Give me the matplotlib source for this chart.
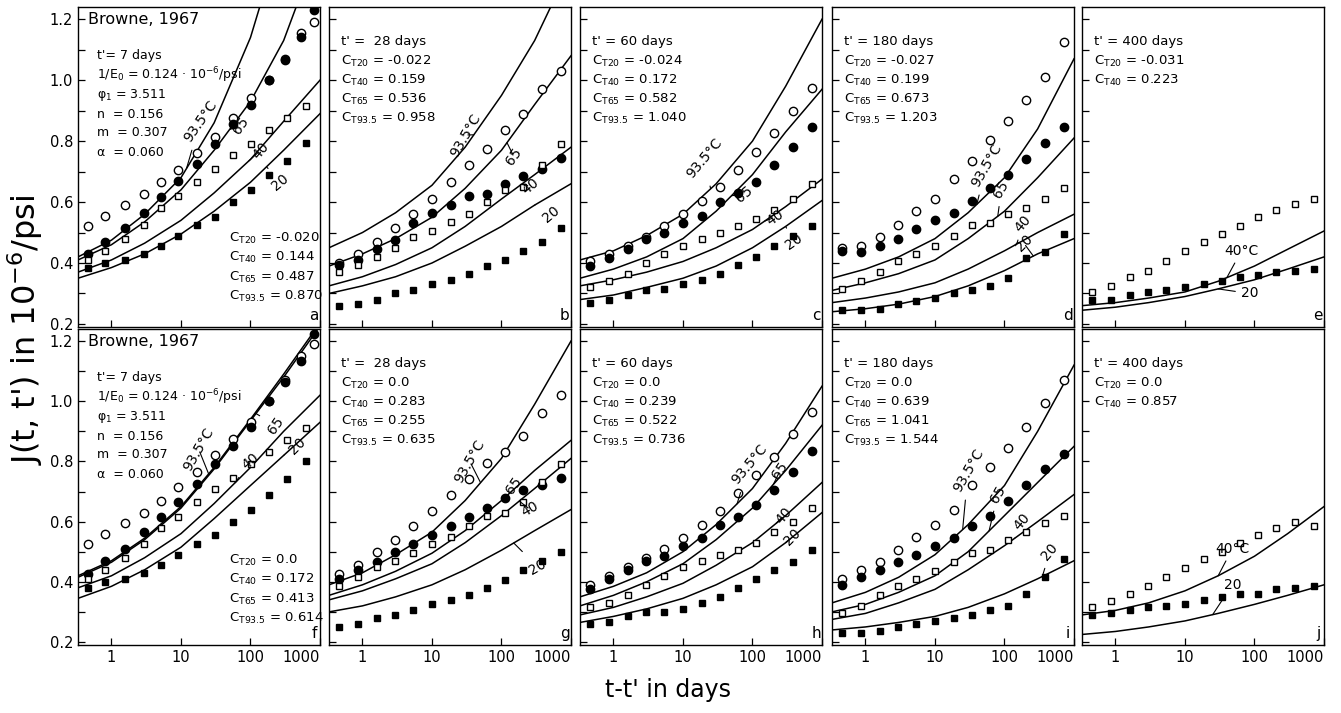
import numpy as np
import matplotlib.pyplot as plt
from matplotlib.ticker import FixedLocator, NullLocator, NullFormatter

plt.rcParams['font.family'] = ['DejaVu Sans']
plt.rcParams['mathtext.fontset'] = 'dejavusans'

### temps de mesure (jours) et abscisses des courbes
t_fit = [0.33, 1, 3, 10, 30, 100, 300, 1000]
t_7 = [0.46, 0.82, 1.57, 2.9, 5.2, 9.1, 17, 31, 56, 103, 185, 310, 540, 820]
t_7b = [0.46, 0.82, 1.57, 2.9, 5.2, 9.1, 17, 31, 56, 103, 185, 340, 620]
t_pts = [0.46, 0.86, 1.6, 2.95, 5.3, 10, 18.7, 34, 62, 114, 205, 380, 710]

### points mesures (o93 = 93.5 C, f65 = 65 C, o40 = 40 C, f20 = 20 C)
a_o93 = [0.52, 0.555, 0.59, 0.625, 0.665, 0.705, 0.76, 0.815, 0.875, 0.94, 1.0, 1.07, 1.155, 1.19]
a_f65 = [0.43, 0.47, 0.515, 0.565, 0.615, 0.67, 0.725, 0.79, 0.855, 0.92, 1.0, 1.065, 1.14, 1.23]
a_o40 = [0.41, 0.44, 0.48, 0.525, 0.58, 0.62, 0.665, 0.71, 0.755, 0.79, 0.835, 0.875, 0.915]
a_f20 = [0.385, 0.40, 0.41, 0.43, 0.455, 0.49, 0.525, 0.55, 0.60, 0.64, 0.69, 0.735, 0.795]

b_o93 = [0.40, 0.43, 0.47, 0.515, 0.56, 0.61, 0.665, 0.72, 0.775, 0.835, 0.89, 0.97, 1.03]
b_f65 = [0.395, 0.41, 0.445, 0.475, 0.53, 0.565, 0.59, 0.62, 0.625, 0.66, 0.685, 0.71, 0.745]
b_o40 = [0.37, 0.395, 0.42, 0.45, 0.485, 0.505, 0.535, 0.56, 0.60, 0.64, 0.65, 0.72, 0.79]
b_f20 = [0.26, 0.265, 0.28, 0.30, 0.31, 0.33, 0.345, 0.365, 0.39, 0.41, 0.44, 0.47, 0.515]

c_o93 = [0.405, 0.43, 0.455, 0.485, 0.52, 0.56, 0.605, 0.65, 0.705, 0.765, 0.825, 0.90, 0.975]
c_f65 = [0.39, 0.415, 0.445, 0.48, 0.50, 0.53, 0.555, 0.60, 0.63, 0.665, 0.72, 0.78, 0.845]
c_o40 = [0.32, 0.34, 0.365, 0.40, 0.43, 0.455, 0.48, 0.50, 0.52, 0.545, 0.575, 0.61, 0.66]
c_f20 = [0.27, 0.28, 0.295, 0.31, 0.315, 0.33, 0.345, 0.365, 0.395, 0.42, 0.455, 0.49, 0.52]

d_o93 = [0.45, 0.455, 0.485, 0.525, 0.57, 0.61, 0.675, 0.735, 0.805, 0.865, 0.935, 1.01, 1.125]
d_f65 = [0.44, 0.435, 0.455, 0.48, 0.51, 0.54, 0.565, 0.605, 0.645, 0.69, 0.74, 0.795, 0.845]
d_o40 = [0.315, 0.34, 0.37, 0.405, 0.43, 0.455, 0.49, 0.525, 0.53, 0.56, 0.58, 0.61, 0.645]
d_f20 = [0.245, 0.245, 0.25, 0.265, 0.275, 0.285, 0.30, 0.31, 0.325, 0.35, 0.415, 0.435, 0.495]

e_o40 = [0.305, 0.325, 0.355, 0.375, 0.405, 0.44, 0.47, 0.495, 0.52, 0.55, 0.575, 0.595, 0.61]
e_f20 = [0.28, 0.28, 0.295, 0.305, 0.31, 0.32, 0.33, 0.34, 0.355, 0.36, 0.37, 0.375, 0.38]

f_o93 = [0.525, 0.56, 0.595, 0.63, 0.67, 0.715, 0.765, 0.82, 0.875, 0.93, 1.0, 1.07, 1.15, 1.19]
f_f65 = [0.425, 0.47, 0.51, 0.565, 0.615, 0.665, 0.725, 0.79, 0.85, 0.915, 1.0, 1.065, 1.135, 1.225]
f_o40 = [0.41, 0.44, 0.48, 0.525, 0.58, 0.615, 0.665, 0.71, 0.745, 0.79, 0.83, 0.87, 0.91]
f_f20 = [0.38, 0.40, 0.41, 0.43, 0.455, 0.49, 0.525, 0.555, 0.60, 0.64, 0.69, 0.74, 0.80]

g_o93 = [0.425, 0.455, 0.50, 0.54, 0.585, 0.635, 0.69, 0.74, 0.795, 0.83, 0.885, 0.96, 1.02]
g_f65 = [0.41, 0.44, 0.465, 0.50, 0.525, 0.555, 0.585, 0.615, 0.645, 0.68, 0.705, 0.72, 0.745]
g_o40 = [0.385, 0.415, 0.45, 0.47, 0.495, 0.525, 0.55, 0.585, 0.62, 0.63, 0.665, 0.73, 0.79]
g_f20 = [0.25, 0.26, 0.28, 0.29, 0.305, 0.325, 0.34, 0.355, 0.38, 0.405, 0.44, 0.47, 0.50]

h_o93 = [0.39, 0.42, 0.45, 0.48, 0.51, 0.545, 0.59, 0.635, 0.695, 0.755, 0.815, 0.89, 0.965]
h_f65 = [0.375, 0.41, 0.44, 0.47, 0.485, 0.52, 0.545, 0.59, 0.615, 0.655, 0.705, 0.765, 0.835]
h_o40 = [0.315, 0.33, 0.355, 0.39, 0.42, 0.45, 0.47, 0.49, 0.505, 0.53, 0.565, 0.60, 0.645]
h_f20 = [0.26, 0.265, 0.285, 0.30, 0.30, 0.31, 0.33, 0.35, 0.38, 0.41, 0.44, 0.465, 0.505]

i_o93 = [0.41, 0.44, 0.465, 0.505, 0.55, 0.59, 0.64, 0.72, 0.78, 0.845, 0.915, 0.995, 1.07]
i_f65 = [0.39, 0.415, 0.44, 0.465, 0.49, 0.52, 0.545, 0.585, 0.62, 0.67, 0.72, 0.775, 0.825]
i_o40 = [0.295, 0.32, 0.355, 0.385, 0.41, 0.435, 0.465, 0.495, 0.505, 0.54, 0.565, 0.595, 0.62]
i_f20 = [0.23, 0.23, 0.235, 0.25, 0.26, 0.27, 0.28, 0.29, 0.305, 0.32, 0.36, 0.415, 0.475]

j_o40 = [0.315, 0.335, 0.36, 0.385, 0.415, 0.445, 0.475, 0.50, 0.53, 0.555, 0.58, 0.60, 0.585]
j_f20 = [0.29, 0.295, 0.305, 0.315, 0.32, 0.325, 0.34, 0.35, 0.36, 0.36, 0.375, 0.38, 0.385]

### courbes du modele, lues aux abscisses t_fit
a_c93 = [0.42, 0.475, 0.56, 0.68, 0.86, 1.14, 1.5, 2.0]
a_c65 = [0.41, 0.46, 0.535, 0.64, 0.77, 0.93, 1.13, 1.45]
a_c40 = [0.37, 0.41, 0.465, 0.54, 0.63, 0.74, 0.865, 1.0]
a_c20 = [0.35, 0.385, 0.43, 0.495, 0.57, 0.665, 0.77, 0.89]

b_c93 = [0.45, 0.50, 0.565, 0.655, 0.78, 0.95, 1.13, 1.38]
b_c65 = [0.39, 0.43, 0.48, 0.55, 0.645, 0.77, 0.92, 1.08]
b_c40 = [0.325, 0.355, 0.395, 0.45, 0.52, 0.61, 0.69, 0.78]
b_c20 = [0.30, 0.325, 0.355, 0.40, 0.455, 0.52, 0.59, 0.66]

c_c93 = [0.41, 0.44, 0.49, 0.56, 0.66, 0.80, 0.98, 1.2]
c_c65 = [0.35, 0.38, 0.42, 0.48, 0.57, 0.69, 0.83, 0.97]
c_c40 = [0.325, 0.345, 0.37, 0.405, 0.45, 0.51, 0.585, 0.675]
c_c20 = [0.28, 0.295, 0.32, 0.35, 0.39, 0.45, 0.52, 0.605]

d_c93 = [0.35, 0.38, 0.42, 0.48, 0.565, 0.68, 0.84, 1.07]
d_c65 = [0.31, 0.335, 0.365, 0.41, 0.48, 0.57, 0.68, 0.81]
d_c40 = [0.27, 0.285, 0.305, 0.335, 0.38, 0.44, 0.50, 0.56]
d_c20 = [0.24, 0.25, 0.265, 0.29, 0.325, 0.375, 0.43, 0.48]

e_c40 = [0.26, 0.27, 0.285, 0.305, 0.34, 0.39, 0.445, 0.505]
e_c20 = [0.245, 0.255, 0.27, 0.29, 0.315, 0.345, 0.38, 0.42]

f_c93 = [0.42, 0.47, 0.545, 0.65, 0.78, 0.94, 1.09, 1.26]
f_c65 = [0.415, 0.465, 0.54, 0.645, 0.775, 0.935, 1.08, 1.25]
f_c40 = [0.38, 0.42, 0.48, 0.56, 0.66, 0.78, 0.90, 1.02]
f_c20 = [0.345, 0.385, 0.44, 0.515, 0.61, 0.72, 0.82, 0.93]

g_c93 = [0.39, 0.43, 0.49, 0.565, 0.67, 0.81, 0.99, 1.2]
g_c65 = [0.355, 0.39, 0.435, 0.495, 0.57, 0.67, 0.77, 0.87]
g_c40 = [0.34, 0.37, 0.41, 0.46, 0.53, 0.62, 0.71, 0.81]
g_c20 = [0.30, 0.32, 0.35, 0.39, 0.44, 0.505, 0.57, 0.64]

h_c93 = [0.35, 0.385, 0.43, 0.50, 0.59, 0.71, 0.86, 1.05]
h_c65 = [0.32, 0.355, 0.40, 0.46, 0.54, 0.645, 0.77, 0.92]
h_c40 = [0.29, 0.315, 0.35, 0.395, 0.455, 0.53, 0.62, 0.73]
h_c20 = [0.265, 0.285, 0.31, 0.345, 0.39, 0.45, 0.53, 0.63]

i_c93 = [0.33, 0.365, 0.415, 0.49, 0.59, 0.72, 0.90, 1.12]
i_c65 = [0.30, 0.325, 0.365, 0.42, 0.50, 0.62, 0.73, 0.85]
i_c40 = [0.275, 0.295, 0.33, 0.375, 0.44, 0.52, 0.60, 0.69]
i_c20 = [0.24, 0.25, 0.265, 0.285, 0.315, 0.36, 0.41, 0.47]

j_c40 = [0.29, 0.305, 0.33, 0.37, 0.42, 0.485, 0.56, 0.65]
j_c20 = [0.225, 0.235, 0.25, 0.27, 0.295, 0.325, 0.355, 0.39]

### graduations
x_ticks = [1, 10, 100, 1000]
x_labels = ["1", "10", "100", "1000"]
y_ticks = [0.2, 0.4, 0.6, 0.8, 1.0, 1.2]
y_minor = [0.3, 0.5, 0.7, 0.9, 1.1]
y_labels = ["0.2", "0.4", "0.6", "0.8", "1.0", "1.2"]

### textes
params_txt = ["t'= 7 days", "1/E$_0$ = 0.124 · 10$^{-6}$/psi", "φ$_1$ = 3.511",
              "n  = 0.156", "m  = 0.307", "α  = 0.060"]
tprime = ["t' = 7 days", "t' =  28 days", "t' = 60 days", "t' = 180 days", "t' = 400 days",
          "t' = 7 days", "t' =  28 days", "t' = 60 days", "t' = 180 days", "t' = 400 days"]
ct_names = ["C$_{\\rm T20}$", "C$_{\\rm T40}$", "C$_{\\rm T65}$", "C$_{\\rm T93.5}$"]
ct_vals = [["-0.020", "0.144", "0.487", "0.870"],
           ["-0.022", "0.159", "0.536", "0.958"],
           ["-0.024", "0.172", "0.582", "1.040"],
           ["-0.027", "0.199", "0.673", "1.203"],
           ["-0.031", "0.223"],
           ["0.0", "0.172", "0.413", "0.614"],
           ["0.0", "0.283", "0.255", "0.635"],
           ["0.0", "0.239", "0.522", "0.736"],
           ["0.0", "0.639", "1.041", "1.544"],
           ["0.0", "0.857"]]
lettres = list("abcdefghij")

###Fonction pour tracer un panneau
def tracer(ax, t_pts93, o93, f65, t_pts40, o40, f20, c93, c65, c40, c20):
    for c in [c93, c65, c40, c20]:
        if c is not None:
            ax.plot(t_fit, c, color='black', lw=1.1)
    ms = 6
    if o93 is not None:
        ax.plot(t_pts93, o93, 'o', ms=ms, mfc='white', mec='black', mew=1.0)
        ax.plot(t_pts93[:len(f65)], f65, 'o', ms=ms, mfc='black', mec='black')
    ax.plot(t_pts40, o40, 's', ms=5, mfc='white', mec='black', mew=1.0)
    ax.plot(t_pts40[:len(f20)], f20, 's', ms=5, mfc='black', mec='black')

def etiquette(ax, txt, ta, courbe, tx, ty, rot):
    ya = np.interp(np.log10(ta), np.log10(t_fit), courbe)
    ax.annotate(txt, xy=(ta, ya), xytext=(tx, ty), rotation=rot, fontsize=10,
                ha='center', va='center',
                arrowprops=dict(arrowstyle='-', lw=0.8, color='black', shrinkA=2, shrinkB=0))

W, H = 1341, 713
fig = plt.figure(figsize=(W / 100, H / 100), dpi=100)
col_x = [78, 329, 580, 832, 1082]
axes = []
for r, (top, bot) in enumerate([(7, 327), (329, 645)]):
    for c, x0 in enumerate(col_x):
        ax = fig.add_axes([x0 / W, 1 - bot / H, 242 / W, (bot - top) / H])
        axes.append(ax)

panels = [
    (t_7, a_o93, a_f65, t_7b, a_o40, a_f20, a_c93, a_c65, a_c40, a_c20),
    (t_pts, b_o93, b_f65, t_pts, b_o40, b_f20, b_c93, b_c65, b_c40, b_c20),
    (t_pts, c_o93, c_f65, t_pts, c_o40, c_f20, c_c93, c_c65, c_c40, c_c20),
    (t_pts, d_o93, d_f65, t_pts, d_o40, d_f20, d_c93, d_c65, d_c40, d_c20),
    (t_pts, None, None, t_pts, e_o40, e_f20, None, None, e_c40, e_c20),
    (t_7, f_o93, f_f65, t_7b, f_o40, f_f20, f_c93, f_c65, f_c40, f_c20),
    (t_pts, g_o93, g_f65, t_pts, g_o40, g_f20, g_c93, g_c65, g_c40, g_c20),
    (t_pts, h_o93, h_f65, t_pts, h_o40, h_f20, h_c93, h_c65, h_c40, h_c20),
    (t_pts, i_o93, i_f65, t_pts, i_o40, i_f20, i_c93, i_c65, i_c40, i_c20),
    (t_pts, None, None, t_pts, j_o40, j_f20, None, None, j_c40, j_c20),
]

# etiquettes des courbes : (texte, t ancre, indice courbe, t texte, y texte, rotation)
labels = [
    [("93.5°C", 12, 6, 19, 0.865, 55), ("65", 50, 7, 72, 0.85, 55), ("40", 95, 8, 140, 0.77, 50), ("20", 170, 9, 270, 0.665, 40)],
    [("93.5°C", 40, 6, 30, 0.82, 60), ("65", 120, 7, 150, 0.75, 55), ("40", 200, 8, 260, 0.65, 40), ("20", 300, 9, 520, 0.56, 40)],
    [("93.5°C", 25, 6, 20, 0.745, 50), ("65", 50, 7, 75, 0.625, 40), ("40", 150, 8, 210, 0.55, 35), ("20", 300, 9, 390, 0.47, 35)],
    [("93.5°C", 40, 6, 55, 0.72, 60), ("65", 80, 7, 90, 0.64, 60), ("40", 150, 8, 185, 0.53, 50), ("20", 260, 9, 190, 0.465, 45)],
    [("40°C", 40, 8, 65, 0.44, 0), ("20", 30, 9, 85, 0.30, 0)],
    [("93.5°C", 25, 6, 18, 0.84, 60), ("65", 120, 7, 230, 0.92, 55), ("40", 60, 8, 100, 0.80, 40), ("20", 300, 9, 480, 0.85, 45)],
    [("93.5°C", 50, 6, 35, 0.80, 60), ("65", 100, 7, 150, 0.72, 55), ("40", 180, 8, 260, 0.64, 30), ("20", 150, 9, 330, 0.45, 30)],
    [("93.5°C", 60, 6, 90, 0.79, 50), ("65", 200, 7, 250, 0.77, 55), ("40", 220, 8, 280, 0.62, 50), ("20", 300, 9, 380, 0.55, 45)],
    [("93.5°C", 25, 6, 30, 0.77, 60), ("65", 60, 7, 80, 0.69, 60), ("40", 140, 8, 180, 0.60, 50), ("20", 350, 9, 450, 0.50, 50)],
    [("40°C", 30, 8, 48, 0.51, 0), ("20", 25, 9, 48, 0.39, 0)],
]

for k, ax in enumerate(axes):
    p = panels[k]
    tracer(ax, *p)
    for (txt, ta, ic, tx, ty, rot) in labels[k]:
        etiquette(ax, txt, ta, p[ic], tx, ty, rot)

    ax.set_xscale('log')
    ax.set_xlim(0.33, 1000)
    ax.set_ylim(0.19, 1.24)
    ax.xaxis.set_major_locator(FixedLocator(x_ticks))
    ax.xaxis.set_minor_locator(NullLocator())
    ax.yaxis.set_major_locator(FixedLocator(y_ticks))
    ax.yaxis.set_minor_locator(FixedLocator(y_minor))
    ax.tick_params(which='both', direction='in', length=5, width=0.9, top=False, right=False,
                   labelsize=10.5)
    for s in ax.spines.values():
        s.set_linewidth(1.0)

    row = k // 5
    col = k % 5
    if row == 1:
        ax.set_xticklabels(x_labels)
        ax.get_xticklabels()[-1].set_horizontalalignment('right')
    else:
        ax.xaxis.set_major_formatter(NullFormatter())
    if col == 0:
        ax.set_yticklabels(y_labels)
    else:
        ax.yaxis.set_major_formatter(NullFormatter())

    # position verticale des lignes (pixels)
    if row == 0:
        top, hgt = 7, 320
    else:
        top, hgt = 329, 316
    fy = lambda py: 1 - (py - top) / hgt

    if col == 0:
        ax.text(0.04, fy(top + 12), "Browne, 1967", transform=ax.transAxes, fontsize=11.5, va='center')
        ys = [48, 68, 88, 107, 126, 145]
        for i, s in enumerate(params_txt):
            ax.text(0.08, fy(top + ys[i]), s, transform=ax.transAxes, fontsize=9, va='center')
        for i, (n, v) in enumerate(zip(ct_names, ct_vals[k])):
            ax.text(0.625, fy(top + 231 + i * 19.5), n + " = " + v, transform=ax.transAxes,
                    fontsize=9.5, va='center')
    else:
        ax.text(0.05, fy(top + 35), tprime[k], transform=ax.transAxes, fontsize=9.5, va='center')
        for i, v in enumerate(ct_vals[k]):
            ax.text(0.05, fy(top + 54 + i * 19), ct_names[i] + " = " + v, transform=ax.transAxes,
                    fontsize=9.5, va='center')

    ax.text(0.975, 0.035, lettres[k], transform=ax.transAxes, fontsize=11, ha='center', va='center')

fig.text(25 / W, 1 - 330 / H, "J(t, t') in 10$^{-6}$/psi", rotation=90, fontsize=23,
         ha='center', va='center')
fig.text(668 / W, 1 - 690 / H, "t-t' in days", fontsize=17, ha='center', va='center')

plt.savefig("out.png", dpi=100)
plt.close()
